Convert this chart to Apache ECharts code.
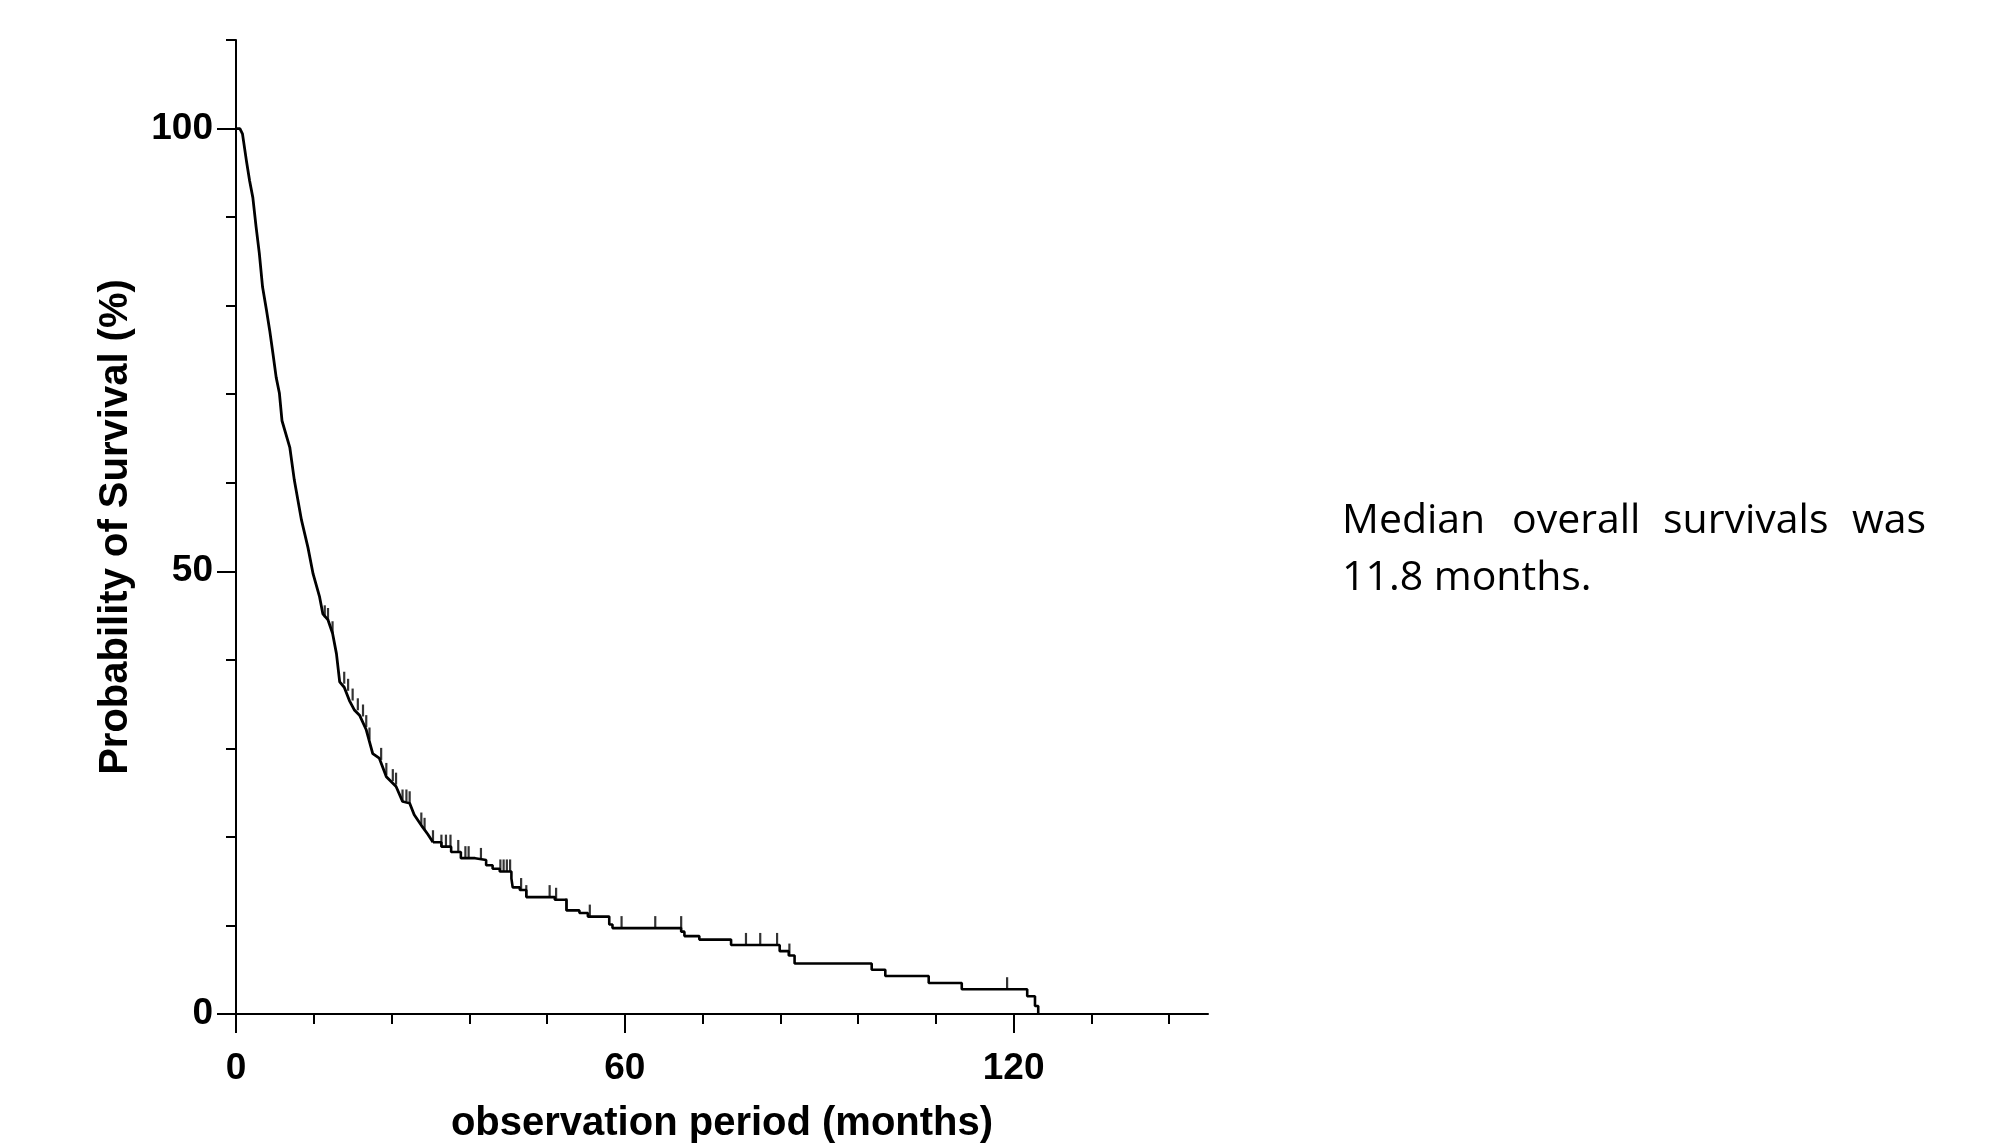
<!DOCTYPE html>
<html>
<head>
<meta charset="utf-8">
<title>Overall survival</title>
<script src="https://cdn.jsdelivr.net/npm/echarts@6/dist/echarts.min.js"></script>
<style>
  html, body { margin: 0; padding: 0; background: #fff; }
  #main { width: 2013px; height: 1145px; }
</style>
</head>
<body>
<div id="main"></div>
<script>
// early part of the Kaplan-Meier curve, steps are tiny here so it is drawn as a plain line
var earlyMonths   = [0, 0.6, 1.0, 1.6, 2.1, 2.6, 3.1, 3.6, 4.1, 4.7, 5.2, 5.7, 6.2, 6.7, 7.1, 8.3, 9.0, 10.1, 11.1, 11.9,
                     12.9, 13.4, 14.2, 14.9, 15.5, 16.0, 16.7, 17.5, 18.3, 19.1, 20.1, 21.1, 22.1, 23.2, 24.7, 25.7,
                     26.8, 27.5, 28.8, 29.6, 30.4];
var earlySurvival = [100, 100, 99.4, 96.4, 94.1, 92.2, 88.9, 85.9, 82.1, 79.5, 77.2, 74.6, 71.9, 70.1, 67.0, 64.0, 60.3, 55.8, 52.7, 49.7,
                     47.1, 45.2, 44.5, 43.0, 40.7, 37.5, 36.9, 35.4, 34.3, 33.7, 32.1, 29.4, 28.9, 26.8, 25.7, 24.0,
                     23.8, 22.5, 21.1, 20.3, 19.4];
// later part, drawn as steps
var stepMonths   = [30.4, 31.7, 33.2, 34.7, 36.9, 38.6, 39.6, 40.7, 42.5, 42.7, 43.8, 44.8, 49.2, 51.0, 53.0, 54.3, 57.6, 58.1,
                    68.7, 69.2, 71.5, 76.4, 83.9, 85.3, 86.2, 98.1, 100.2, 106.9, 112.0, 122.1, 123.3, 123.8];
var stepSurvival = [19.4, 18.9, 18.3, 17.6, 17.4, 16.8, 16.4, 16.1, 15.3, 14.3, 14.0, 13.2, 12.9, 11.7, 11.4, 11.0, 10.1, 9.7,
                    9.3, 8.8, 8.4, 7.8, 7.1, 6.6, 5.7, 5.0, 4.3, 3.5, 2.8, 2.0, 0.9, 0];
// censored patients (tick marks on the curve)
var censorMonths   = [13.7, 14.2, 14.9, 16.7, 17.3, 18.0, 18.8, 19.6, 20.1, 20.6, 22.4, 23.2, 24.2, 24.7, 25.7, 26.3, 26.8,
                      28.6, 29.1, 30.4, 31.7, 32.4, 33.1, 34.3, 35.4, 35.9, 37.8, 40.8, 41.3, 41.8, 42.3, 44.0, 44.8,
                      48.4, 49.4, 51.0, 54.6, 59.5, 64.7, 68.7, 78.7, 80.9, 83.5, 85.4, 119.0];
var censorSurvival = [44.8, 44.5, 43.0, 37.3, 36.5, 35.4, 34.3, 33.6, 32.4, 31.0, 28.7, 27.0, 26.3, 25.9, 24.0, 24.0, 23.8,
                      21.4, 20.8, 19.4, 18.9, 18.9, 18.9, 18.3, 17.6, 17.6, 17.4, 16.1, 16.1, 16.1, 16.1, 14.0, 13.2,
                      13.2, 12.9, 11.7, 11.0, 9.7, 9.7, 9.7, 7.8, 7.8, 7.8, 6.6, 2.8];
// axis ticks and labels
var xMinorTicks = [0, 12, 24, 36, 48, 60, 72, 84, 96, 108, 120, 132, 144];
var xMajorTicks = [0, 60, 120];
var yMinorTicks = [0, 10, 20, 30, 40, 50, 60, 70, 80, 90, 100, 110];
var yMajorTicks = [0, 50, 100];

var noteLine1 = ['Median', 'overall', 'survivals', 'was'];
var noteLine2 = '11.8 months.';

function pairs(xs, ys) {
    var out = [];
    for (var i = 0; i < xs.length; i++) {
        out.push([xs[i], ys[i]]);
    }
    return out;
}

var axisFont = '"Liberation Sans", Arial, sans-serif';
var noteFont = '41px "Open Sans", sans-serif';
var black = '#000';

var myChart = echarts.init(document.getElementById('main'));

var option = {
    animation: false,
    backgroundColor: '#fff',
    // keep the plot box fixed, the axis name may reach the bottom edge
    grid: { left: 236, right: 805, top: 40, bottom: 131, outerBoundsMode: 'none', containLabel: false },
    xAxis: [
        {   // axis line + short ticks every 12 months
            type: 'value', min: 0, max: 150, position: 'bottom',
            axisLine: { lineStyle: { color: black, width: 2 } },
            axisTick: { customValues: xMinorTicks, length: 10, lineStyle: { color: black, width: 2 } },
            axisLabel: { show: false },
            splitLine: { show: false }
        },
        {   // long ticks + labels
            type: 'value', min: 0, max: 150, position: 'bottom',
            axisLine: { show: false },
            axisTick: { customValues: xMajorTicks, length: 19, lineStyle: { color: black, width: 2 } },
            axisLabel: {
                customValues: xMajorTicks, margin: 36,
                color: black, fontFamily: axisFont, fontWeight: 'bold', fontSize: 37
            },
            splitLine: { show: false },
            name: 'observation period (months)',
            nameLocation: 'middle',
            nameGap: 90,
            nameTextStyle: { color: black, fontFamily: axisFont, fontWeight: 'bold', fontSize: 40 }
        }
    ],
    yAxis: [
        {
            type: 'value', min: 0, max: 110, position: 'left',
            axisLine: { show: true, lineStyle: { color: black, width: 2 } },
            axisTick: { show: true, customValues: yMinorTicks, length: 10, lineStyle: { color: black, width: 2 } },
            axisLabel: { show: false },
            splitLine: { show: false }
        },
        {
            type: 'value', min: 0, max: 110, position: 'left',
            axisLine: { show: false },
            axisTick: { show: true, customValues: yMajorTicks, length: 19, lineStyle: { color: black, width: 2 } },
            axisLabel: {
                customValues: yMajorTicks, margin: 23,
                color: black, fontFamily: axisFont, fontWeight: 'bold', fontSize: 37
            },
            splitLine: { show: false },
            name: 'Probability of Survival (%)',
            nameLocation: 'middle',
            nameGap: 100,
            nameTextStyle: { color: black, fontFamily: axisFont, fontWeight: 'bold', fontSize: 40 }
        }
    ],
    series: [
        {
            type: 'line',
            data: pairs(earlyMonths, earlySurvival),
            showSymbol: false,
            lineStyle: { color: black, width: 2.8 },
            z: 3
        },
        {
            type: 'line',
            step: 'end',
            data: pairs(stepMonths, stepSurvival),
            showSymbol: false,
            lineStyle: { color: black, width: 2.6 },
            z: 3
        },
        {
            type: 'scatter',
            data: pairs(censorMonths, censorSurvival),
            symbol: 'rect',
            symbolSize: [2.2, 12],
            symbolOffset: [0, -6],
            itemStyle: { color: black },
            z: 4
        }
    ],
    graphic: [
        { type: 'text', x: 1342, y: 521, style: { text: noteLine1[0], font: noteFont, fill: black, textVerticalAlign: 'middle' } },
        { type: 'text', x: 1512, y: 521, style: { text: noteLine1[1], font: noteFont, fill: black, textVerticalAlign: 'middle' } },
        { type: 'text', x: 1663, y: 521, style: { text: noteLine1[2], font: noteFont, fill: black, textVerticalAlign: 'middle' } },
        { type: 'text', x: 1926, y: 521, style: { text: noteLine1[3], font: noteFont, fill: black, textAlign: 'right', textVerticalAlign: 'middle' } },
        { type: 'text', x: 1342, y: 578, style: { text: noteLine2, font: noteFont, fill: black, textVerticalAlign: 'middle' } }
    ]
};

myChart.setOption(option);
</script>
</body>
</html>
